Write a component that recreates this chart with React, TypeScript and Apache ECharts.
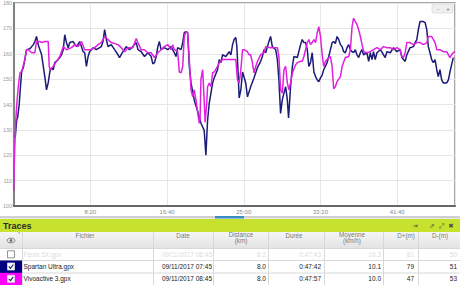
import React, { useEffect, useRef } from "react";
import * as echarts from "echarts";

// heart-rate samples: [seconds, bpm]
const spartanSamples: [number, number][] = [
  [10,127],[20,134],[26,135],[36,140],[43,146],[52,153],[63,154.5],[84,161.6],[106,162],[128,163.6],[138,164.8],[149,166.8],[160,163.6],[171,161.6],[182,159.6],[193,155],[203,151],[214,145.8],[225,148.5],[236,153],[247,154.5],[258,153.7],[268,156.5],[290,157.7],[301,158.5],[312,159.6],[323,161.6],[333,167.5],[344,164.4],[355,162.4],[366,164.4],[388,164.8],[409,162.8],[431,164.8],[442,162.8],[453,160.8],[463,160.4],[474,155],[485,158.9],[495,160.8],[518,162.4],[539,161.6],[571,162.8],[582,164.8],[593,169.5],[604,165.6],[615,162.8],[636,163.6],[658,161.6],[680,159.6],[690,158.5],[712,160.8],[734,162.8],[755,161.6],[777,162.8],[799,164.4],[810,161.6],[831,160.8],[853,158.9],[875,160.4],[896,159],[907,156],[918,156.5],[929,158.9],[940,162.8],[950,164.8],[961,161.6],[982,162.4],[1005,161.6],[1026,162.8],[1047,160.4],[1058,158.9],[1069,162.4],[1091,161.6],[1102,164.4],[1112,168.3],[1123,168.7],[1134,168.3],[1145,155],[1156,148.5],[1177,141.8],[1188,139.5],[1199,137.5],[1221,132.6],[1242,129.8],[1253,120],[1264,133.8],[1275,140.6],[1286,144.5],[1297,148.5],[1307,150.5],[1329,153.7],[1340,157.7],[1351,156.5],[1362,159.6],[1383,158.9],[1405,160.8],[1416,159.6],[1427,163.6],[1437,165.6],[1448,166.4],[1455,162.8],[1463,152.5],[1470,142.6],[1481,145.8],[1492,152.8],[1513,148.5],[1524,143],[1545,147],[1567,150.5],[1589,154.5],[1610,157],[1621,158.9],[1632,161.6],[1643,160.4],[1654,162.8],[1664,164.8],[1675,166.8],[1686,162.8],[1708,161.6],[1719,157.7],[1729,149.7],[1740,136.5],[1751,141.8],[1762,144.5],[1773,147],[1784,141.8],[1792,134.7],[1805,147],[1817,155],[1827,158.9],[1849,158.5],[1870,163.5],[1881,165.6],[1892,164.4],[1903,164.4],[1914,161.6],[1924,155],[1935,156.5],[1946,160.4],[1957,152.8],[1968,151],[1979,149.7],[1989,149],[2000,150.5],[2011,151.6],[2021,153.7],[2032,155],[2043,156.5],[2054,158.9],[2065,161.6],[2076,164.4],[2086,164.8],[2097,164],[2108,166.8],[2119,165.6],[2130,163.6],[2141,162.8],[2151,160.8],[2162,160.4],[2173,162.4],[2184,163.6],[2195,161.6],[2206,160.8],[2216,160.4],[2227,161.6],[2238,159.6],[2249,158.5],[2260,160.4],[2271,161.6],[2281,159.6],[2303,160.4],[2314,157],[2325,160.4],[2336,157.7],[2346,160.8],[2357,157.7],[2368,160.4],[2390,161.6],[2411,159.6],[2422,158.5],[2433,160.8],[2455,160.4],[2476,162.4],[2498,160.8],[2519,161.6],[2531,158.5],[2541,157.7],[2552,157],[2563,159.6],[2584,162.4],[2606,162.8],[2617,164.4],[2628,165.6],[2638,169.5],[2649,172.7],[2671,172.7],[2682,172.3],[2693,169.5],[2703,162.8],[2714,160.4],[2725,157.7],[2736,156.5],[2747,157.7],[2758,153.7],[2768,151],[2779,153.7],[2790,149.7],[2801,148.5],[2823,148.5],[2834,149.7],[2844,152.8],[2855,155.7],[2866,158.5]
];

const vivoSamples: [number, number][] = [
  [0,106],[5,119],[13,133],[20,140],[30,147],[41,152.5],[52,153],[73,157.7],[84,161.6],[95,161.6],[117,160.4],[138,160.4],[149,164.8],[171,164.8],[182,164.4],[203,164.8],[225,164.8],[232,155],[236,153.7],[258,155],[279,157],[301,158.9],[323,162.8],[344,161.6],[377,162.4],[398,163.6],[420,162.8],[442,164.8],[463,161.6],[485,161.6],[506,161.6],[528,162.4],[550,163.6],[571,164.4],[593,166.8],[615,165.6],[636,164.4],[680,163.6],[701,162.4],[723,160.8],[745,162.4],[777,162.4],[799,166],[810,164.4],[831,161.6],[853,161.6],[875,160.4],[896,160.4],[918,158.5],[940,160.4],[961,161.6],[982,162.8],[1005,163.6],[1026,161.6],[1037,163.6],[1047,161.6],[1069,160.8],[1080,152.8],[1091,152.5],[1102,155],[1112,166.8],[1123,168.7],[1134,168.3],[1145,157.7],[1156,145.8],[1167,143],[1177,145.8],[1188,141.8],[1199,137],[1210,132.6],[1215,134],[1221,150],[1232,153.7],[1242,141.8],[1248,133],[1258,140],[1264,147],[1275,148.5],[1286,147],[1297,152.5],[1307,152.8],[1329,155],[1340,156.5],[1362,157.7],[1383,157.7],[1405,157.7],[1427,157.7],[1448,157.7],[1459,149.7],[1470,148.5],[1481,153.7],[1492,161.6],[1502,161.6],[1524,160.8],[1534,159.6],[1545,159.6],[1556,156.5],[1567,152.5],[1578,155],[1589,157],[1610,159.6],[1632,160.4],[1643,162.8],[1675,162.4],[1697,162.4],[1719,162.4],[1729,158.9],[1740,145.8],[1751,144.5],[1762,153.7],[1773,155],[1784,148.5],[1794,145.8],[1805,148.5],[1817,152.5],[1838,155.7],[1849,156.5],[1870,157],[1881,157],[1892,158.9],[1914,164.4],[1924,165.6],[1935,163.6],[1946,164.4],[1957,165.6],[1968,164.4],[1979,168.3],[1989,170.7],[2000,166.8],[2011,159.6],[2021,155],[2032,157],[2043,157.7],[2065,158.9],[2076,155],[2086,146.2],[2097,147],[2108,149],[2130,151],[2141,155],[2162,158.5],[2184,158.9],[2195,161.6],[2206,170.7],[2216,174],[2227,172.7],[2238,171.5],[2249,169.5],[2260,166.8],[2271,163.6],[2281,160.8],[2303,160.4],[2325,160.8],[2346,161.6],[2368,162.4],[2390,161.6],[2411,162.8],[2433,162.4],[2455,162.4],[2476,161.6],[2498,162.4],[2519,161.6],[2531,158.9],[2541,158.5],[2552,160.4],[2563,164.4],[2584,164.4],[2606,163.6],[2628,164.4],[2649,164.4],[2671,163.6],[2693,164.4],[2703,166.8],[2725,166.8],[2736,165.6],[2747,164.4],[2758,161.6],[2779,161.6],[2801,160.8],[2823,160.8],[2834,159.6],[2844,158.5],[2855,159.6],[2866,160.4],[2877,161]
];

const seriesNames = ["Spartan Ultra.gpx", "Vivoactive 3.gpx"];
const seriesColors = ["#1b1b78", "#e01fe0"];
const yMin = 100;
const yMax = 180;
const yStep = 10;
const xMax = 2877;
const xStep = 500;

// table
const headerTitles = ["Fichier", "Date", "Distance\n(km)", "Durée", "Moyenne\n(km/h)", "D+(m)", "D-(m)"];
const fileNames = ["Fenix 5X.gpx", "Spartan Ultra.gpx", "Vivoactive 3.gpx"];
const fileDates = ["09/11/2017 08:45", "09/11/2017 07:45", "09/11/2017 08:45"];
const distances = ["8.2", "8.0", "8.0"];
const durations = ["0:47:43", "0:47:42", "0:47:57"];
const speeds = ["10.3", "10.1", "10.0"];
const ascents = ["81", "79", "47"];
const descents = ["50", "51", "53"];
const rowColors = ["", "#000080", "#ff00ff"];
const rowChecked = [false, true, true];

const FONT = "Liberation Sans, Arial, sans-serif";

function fmt(v: number) {
  const m = Math.floor(v / 60);
  const s = Math.round(v % 60);
  return m + ":" + (s < 10 ? "0" : "") + s;
}

export default function App() {
  const ref = useRef<HTMLDivElement>(null);
  useEffect(() => {
    const chart = echarts.init(ref.current!, undefined, { renderer: "svg" });
    const g: any[] = [];
    // scroll strip
    g.push({ type: "rect", shape: { x: 0, y: 216, width: 460, height: 2.5 }, style: { fill: "#d0d0d0" } });
    g.push({ type: "rect", shape: { x: 215, y: 216, width: 29, height: 2.5 }, style: { fill: "#3b8ec4" } });
    // green band
    g.push({ type: "rect", shape: { x: 0, y: 219, width: 460, height: 13 }, style: { fill: "#c6e22e" } });
    g.push({ type: "text", x: 3, y: 226, style: { text: "Traces", fontSize: 9, fontWeight: "bold", fill: "#2a2a2a", fontFamily: FONT, verticalAlign: "middle" } });
    const icons = [["⇥", 415], ["⇗", 432], ["⤢", 441], ["✖", 451]];
    icons.forEach(([t, x]) => g.push({ type: "text", x: x as number, y: 226, style: { text: t as string, fontSize: 6.5, fill: "#4a4a4a", fontFamily: "DejaVu Sans", align: "center", verticalAlign: "middle" } }));
    // header
    g.push({ type: "rect", shape: { x: 0, y: 232, width: 460, height: 16 }, style: { fill: new echarts.graphic.LinearGradient(0, 0, 0, 1, [{ offset: 0, color: "#f6f6f6" }, { offset: 1, color: "#e3e3e3" }]) } });
    // rows bg
    g.push({ type: "rect", shape: { x: 0, y: 248, width: 460, height: 37 }, style: { fill: "#ffffff" } });
    const colX = [22, 153, 213, 268, 324, 383, 418];
    colX.forEach((x) => g.push({ type: "line", shape: { x1: x + 0.5, y1: 232, x2: x + 0.5, y2: 285 }, style: { stroke: "#d8d8d8", lineWidth: 1 } }));
    [248, 260, 272.5].forEach((y) => g.push({ type: "line", shape: { x1: 0, y1: y + 0.5, x2: 460, y2: y + 0.5 }, style: { stroke: "#d8d8d8", lineWidth: 1 } }));
    // eye icon
    g.push({ type: "ellipse", shape: { cx: 11, cy: 240.5, rx: 4, ry: 2.3 }, style: { fill: "none", stroke: "#666", lineWidth: 0.8 } });
    g.push({ type: "circle", shape: { cx: 11, cy: 240.5, r: 1.3 }, style: { fill: "#666" } });
    g.push({ type: "text", x: 18, y: 234, style: { text: "*", fontSize: 5, fill: "#777", fontFamily: FONT, verticalAlign: "middle" } });
    const headX = [85, 183, 241, 294, 352, 406, 440];
    headerTitles.forEach((t, i) => {
      const two = t.indexOf("\n") >= 0;
      g.push({ type: "text", x: headX[i], y: two ? 237.5 : 235.5, style: { text: t, fontSize: 6.3, lineHeight: 6.5, fill: "#7a7a7a", fontFamily: FONT, align: "center", verticalAlign: "middle" } });
    });
    const rowY = [254.3, 266.5, 278.8];
    const rightX = [212, 266, 321, 381, 414, 457];
    fileNames.forEach((name, i) => {
      const y = rowY[i];
      const faded = !rowChecked[i];
      const col = faded ? "#dcdcdc" : "#222";
      if (rowColors[i]) {
        g.push({ type: "rect", shape: { x: 0, y: y - 6, width: 22, height: 12.5 }, style: { fill: rowColors[i] } });
      }
      g.push({ type: "rect", shape: { x: 7.5, y: y - 3.5, width: 7, height: 7 }, style: { fill: "#fff", stroke: faded ? "#777" : "#ddd", lineWidth: 0.8 } });
      if (rowChecked[i]) {
        g.push({ type: "polyline", shape: { points: [[8.8, y], [10.5, y + 1.8], [13.3, y - 2]] }, style: { stroke: "#1b2a6b", lineWidth: 1.2, fill: "none" } });
      }
      g.push({ type: "text", x: 23.5, y, style: { text: name, fontSize: 6.5, fill: col, fontFamily: FONT, verticalAlign: "middle" } });
      const vals = [fileDates[i], distances[i], durations[i], speeds[i], ascents[i], descents[i]];
      vals.forEach((v, j) => g.push({ type: "text", x: rightX[j], y, style: { text: v, fontSize: 6.5, fill: col, fontFamily: FONT, align: "right", verticalAlign: "middle" } }));
    });
    // zoom buttons
    g.push({ type: "rect", shape: { x: 432, y: 4, width: 21, height: 9, r: 1.5 }, style: { fill: "#efefef", stroke: "#d0d0d0", lineWidth: 0.6 } });
    g.push({ type: "text", x: 438, y: 8.5, style: { text: "-", fontSize: 6, fill: "#666", fontFamily: FONT, align: "center", verticalAlign: "middle" } });
    g.push({ type: "text", x: 448, y: 8.5, style: { text: "+", fontSize: 6, fill: "#666", fontFamily: FONT, align: "center", verticalAlign: "middle" } });

    chart.setOption({
      animation: false,
      backgroundColor: "#ffffff",
      textStyle: { fontFamily: FONT },
      grid: { left: 11, right: 5, top: 3, bottom: 79, show: true, borderColor: "#8c8c8c", borderWidth: 1.5, containLabel: false },
      xAxis: {
        type: "value", min: 0, max: xMax, interval: xStep,
        axisLine: { show: true, lineStyle: { color: "#666", width: 2 } },
        axisTick: { show: false },
        axisLabel: { formatter: (v: number) => fmt(v), fontSize: 6, color: "#8a8a8a", margin: 3, showMinLabel: false, showMaxLabel: false },
        splitLine: { show: true, lineStyle: { color: "#e6e6e6", width: 1 } },
      },
      yAxis: {
        type: "value", min: yMin, max: yMax, interval: yStep,
        axisLine: { show: true, lineStyle: { color: "#666", width: 1.5 } },
        axisTick: { show: false },
        axisLabel: { fontSize: 5.5, color: "#9a9a9a", margin: 1.5 },
        splitLine: { show: true, lineStyle: { color: "#e6e6e6", width: 1 } },
      },
      series: [
        { name: seriesNames[0], type: "line", data: spartanSamples, showSymbol: false, lineStyle: { color: seriesColors[0], width: 1.5 }, itemStyle: { color: seriesColors[0] } },
        { name: seriesNames[1], type: "line", data: vivoSamples, showSymbol: false, lineStyle: { color: seriesColors[1], width: 1.5 }, itemStyle: { color: seriesColors[1] } },
      ],
      graphic: g,
    });
    return () => chart.dispose();
  }, []);
  return <div ref={ref} style={{ position: "fixed", left: 0, top: 0, width: 460, height: 285, background: "#fff" }} />;
}
